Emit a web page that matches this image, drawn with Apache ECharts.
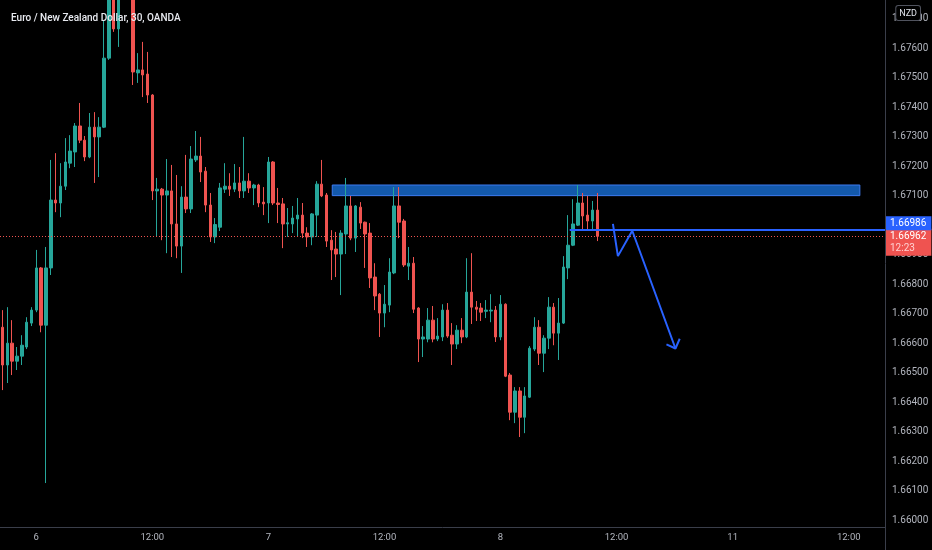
<!DOCTYPE html>
<html><head><meta charset="utf-8">
<script src="https://cdn.jsdelivr.net/npm/echarts@6/dist/echarts.min.js"></script>
<style>html,body{margin:0;padding:0;background:#000;}#c{width:932px;height:550px;}</style>
</head><body><div id="c"></div>
<script>
// ---- data (30-min candles, EUR/NZD) ----
const opens = [1.66654,1.66526,1.66600,1.66539,1.66556,1.66587,1.66668,1.66712,1.66855,1.66661,
1.66855,1.67085,1.67075,1.67132,1.67210,1.67248,1.67336,1.67288,1.67231,1.67332,
1.67299,1.67332,1.67566,1.67780,1.67665,1.67800,1.67900,1.67820,1.67516,1.67526,
1.67512,1.67441,1.67116,1.67122,1.67102,1.67116,1.67004,1.66929,1.67095,1.67055,
1.67221,1.67234,1.67183,1.67068,1.66960,1.66993,1.67122,1.67132,1.67122,1.67143,
1.67116,1.67149,1.67126,1.67136,1.67078,1.67075,1.67214,1.67075,1.67072,1.67004,
1.67004,1.67021,1.67034,1.66973,1.66960,1.67034,1.67139,1.67102,1.66949,1.66919,
1.66902,1.66970,1.67065,1.66956,1.67061,1.67010,1.66973,1.66824,1.66766,1.66702,
1.66729,1.66838,1.67065,1.67014,1.66861,1.66871,1.66719,1.66614,1.66614,1.66678,
1.66614,1.66621,1.66712,1.66627,1.66597,1.66644,1.66621,1.66773,1.66722,1.66719,
1.66708,1.66709,1.66712,1.66621,1.66732,1.66492,1.66366,1.66438,1.66349,1.66417,
1.66580,1.66654,1.66566,1.66617,1.66722,1.66634,1.66668,1.66855,1.66932,1.67000,
1.67075,1.67034,1.67014,1.67051];
const highs = [1.66712,1.66722,1.66678,1.66587,1.66627,1.66688,1.66722,1.66916,1.66858,1.66926,
1.67221,1.67244,1.67210,1.67295,1.67305,1.67346,1.67414,1.67302,1.67380,1.67383,
1.67366,1.67695,1.67800,1.67810,1.67830,1.67930,1.67960,1.67850,1.67583,1.67621,
1.67587,1.67444,1.67160,1.67126,1.67224,1.67204,1.67170,1.67132,1.67238,1.67268,
1.67319,1.67299,1.67197,1.67109,1.67024,1.67143,1.67210,1.67176,1.67207,1.67197,
1.67299,1.67176,1.67140,1.67140,1.67129,1.67231,1.67217,1.67126,1.67092,1.67058,
1.67065,1.67092,1.67075,1.66993,1.67041,1.67149,1.67221,1.67109,1.66983,1.66977,
1.66983,1.67160,1.67099,1.67068,1.67078,1.67012,1.67007,1.66871,1.66770,1.66797,
1.66888,1.67129,1.67129,1.67021,1.66926,1.66892,1.66722,1.66658,1.66719,1.66726,
1.66685,1.66732,1.66736,1.66668,1.66661,1.66685,1.66888,1.66905,1.66743,1.66736,
1.66746,1.66766,1.66726,1.66763,1.66735,1.66499,1.66451,1.66451,1.66451,1.66590,
1.66688,1.66678,1.66627,1.66756,1.66736,1.66753,1.66895,1.67034,1.67088,1.67136,
1.67109,1.67099,1.67082,1.67109];
const lows = [1.66441,1.66465,1.66492,1.66509,1.66526,1.66580,1.66658,1.66705,1.66637,1.66126,
1.66831,1.67044,1.67027,1.67119,1.67193,1.67197,1.67278,1.67217,1.67227,1.67143,
1.67163,1.67329,1.67560,1.67655,1.67604,1.67780,1.67790,1.67475,1.67482,1.67434,
1.67414,1.67085,1.66960,1.66949,1.66905,1.66892,1.66888,1.66838,1.67041,1.67041,
1.67214,1.67146,1.67044,1.66943,1.66939,1.66980,1.67109,1.67099,1.67112,1.67092,
1.67092,1.67109,1.67068,1.67061,1.67034,1.67007,1.67068,1.67007,1.66922,1.66960,
1.66973,1.66960,1.66956,1.66926,1.66932,1.66960,1.67095,1.66926,1.66814,1.66824,
1.66763,1.66902,1.66949,1.66909,1.66987,1.66855,1.66787,1.66712,1.66621,1.66654,
1.66705,1.66834,1.66956,1.66858,1.66814,1.66702,1.66536,1.66553,1.66603,1.66603,
1.66607,1.66607,1.66618,1.66526,1.66580,1.66600,1.66617,1.66665,1.66675,1.66675,
1.66685,1.66671,1.66604,1.66610,1.66485,1.66339,1.66329,1.66282,1.66295,1.66414,
1.66573,1.66526,1.66502,1.66580,1.66593,1.66543,1.66665,1.66817,1.66929,1.66997,
1.66983,1.66983,1.66983,1.66946];
const closes = [1.66526,1.66600,1.66539,1.66556,1.66593,1.66671,1.66712,1.66855,1.66661,1.66855,
1.67085,1.67075,1.67132,1.67214,1.67251,1.67336,1.67288,1.67231,1.67332,1.67299,
1.67332,1.67566,1.67780,1.67665,1.67800,1.67900,1.67820,1.67519,1.67526,1.67509,
1.67441,1.67116,1.67122,1.67102,1.67116,1.67004,1.66929,1.67095,1.67055,1.67224,
1.67234,1.67180,1.67068,1.66960,1.67002,1.67126,1.67132,1.67122,1.67143,1.67116,
1.67149,1.67126,1.67136,1.67075,1.67072,1.67214,1.67075,1.67070,1.67004,1.67008,
1.67024,1.67034,1.66973,1.66960,1.67038,1.67139,1.67099,1.66946,1.66916,1.66902,
1.66973,1.67065,1.66956,1.67065,1.67007,1.66970,1.66821,1.66760,1.66702,1.66732,
1.66841,1.67065,1.67010,1.66865,1.66871,1.66715,1.66614,1.66621,1.66678,1.66614,
1.66624,1.66712,1.66624,1.66597,1.66644,1.66621,1.66773,1.66722,1.66715,1.66705,
1.66712,1.66712,1.66621,1.66732,1.66488,1.66366,1.66438,1.66349,1.66421,1.66583,
1.66654,1.66566,1.66617,1.66722,1.66634,1.66668,1.66858,1.66932,1.67004,1.67075,
1.67031,1.67014,1.67051,1.66962];

// time axis: first bar is day 5 20:30, 30-minute bars, weekend (9,10) skipped
const firstDay = 5, firstMinute = 20 * 60 + 30, barMinutes = 30, slotCount = 183;
const skippedDays = [9, 10];
const tickTimes = ['00:00', '12:00'];

// annotations (in bar-index / price units)
const zoneBar = [68.2, 177.3];
const zonePrice = [1.67136, 1.67100];
const levelPrice = 1.66986;
const levelStartBar = 117.3;
const lastPrice = 1.66962;
const countdown = '12:23';
const arrowPathX = [126.24, 127.27, 130.24, 139.17];
const arrowPathY = [1.67004, 1.66895, 1.66981, 1.66582];
const arrowHeadX = [137.31, 139.17, 140.05];
const arrowHeadY = [1.66596, 1.66582, 1.66615];
const title = 'Euro / New Zealand Dollar, 30, OANDA';
const currency = 'NZD';

// ---- build ----
const categories = [];
for (let i = 0; i < slotCount; i++) {
  const t = firstMinute + i * barMinutes;
  let day = firstDay + Math.floor(t / 1440);
  skippedDays.forEach(d => { if (day >= d) day += 1; });
  const m = t % 1440;
  const hh = String(Math.floor(m / 60)).padStart(2, '0');
  const mm = String(m % 60).padStart(2, '0');
  categories.push(day + ' ' + hh + ':' + mm);
}
const candles = opens.map((o, i) => [o, closes[i], lows[i], highs[i]]);
const zip = (xs, ys) => xs.map((x, i) => [x, ys[i]]);

const UP = '#26a69a', DOWN = '#ef5350', BLUE = '#2962ff';
const FONT = 'Roboto';
const AXIS = '#3a3e4a';

const chart = echarts.init(document.getElementById('c'), null, { renderer: 'canvas' });
chart.setOption({
  backgroundColor: '#000000',
  animation: false,
  title: { text: title, left: 6, top: 8, textStyle: { color: '#e8eaf0', fontSize: 10, fontWeight: 500, fontFamily: FONT } },
  grid: { left: -2, right: 47, top: 0, bottom: 23 },
  xAxis: [{
    type: 'category', data: categories, boundaryGap: true,
    axisLine: { show: true, onZero: false, lineStyle: { color: AXIS } },
    axisTick: { show: false },
    splitLine: { show: false },
    axisLabel: {
      color: '#b2b5be', fontSize: 9.5, fontFamily: FONT, margin: 6,
      interval: (idx, val) => tickTimes.indexOf(val.split(' ')[1]) >= 0,
      formatter: val => { const [d, t] = val.split(' '); return t === '00:00' ? d : t; }
    }
  }, {
    type: 'value', min: -0.5, max: slotCount - 0.5, show: false
  }],
  yAxis: {
    type: 'value', position: 'right', scale: true,
    min: 1.65977, max: 1.67763, splitNumber: 18,
    axisLine: { show: true, onZero: false, lineStyle: { color: AXIS } },
    axisTick: { show: false },
    splitLine: { show: false },
    axisLabel: { color: '#b2b5be', fontSize: 10, fontFamily: FONT, margin: 7,
      showMinLabel: false, showMaxLabel: false, formatter: v => v.toFixed(5) }
  },
  series: [{
    type: 'candlestick', data: candles, barWidth: 3, clip: true,
    itemStyle: { color: UP, color0: DOWN, borderColor: UP, borderColor0: DOWN, borderWidth: 1 }
  }, {
    type: 'line', xAxisIndex: 1, data: zip(arrowPathX, arrowPathY),
    showSymbol: false, symbol: 'none', silent: true, z: 5,
    lineStyle: { color: BLUE, width: 2 },
    markArea: {
      silent: true,
      itemStyle: { color: 'rgba(22,101,196,0.88)', borderColor: '#3d7bf0', borderWidth: 1 },
      data: [[{ coord: [zoneBar[0], zonePrice[0]] }, { coord: [zoneBar[1], zonePrice[1]] }]]
    },
    markLine: {
      silent: true, symbol: ['none', 'none'], animation: false,
      data: [
        [{
          coord: [-0.5, lastPrice],
          lineStyle: { color: DOWN, type: [1, 2], width: 1 },
          label: {
            show: true, position: 'end', distance: 1, offset: [0, 6],
            formatter: '{p|' + lastPrice.toFixed(5) + '}\n{t|' + countdown + '}',
            backgroundColor: DOWN, padding: [2, 5, 1, 4],
            rich: {
              p: { color: '#ffffff', fontSize: 10, fontFamily: FONT, lineHeight: 12 },
              t: { color: '#ffd0d0', fontSize: 10, fontFamily: FONT, lineHeight: 12 }
            }
          }
        }, { coord: [slotCount - 0.5, lastPrice] }],
        [{
          coord: [levelStartBar, levelPrice],
          lineStyle: { color: BLUE, width: 2, type: 'solid' },
          label: {
            show: true, position: 'end', distance: 1, offset: [0, -6],
            formatter: levelPrice.toFixed(5), color: '#ffffff', fontSize: 10, fontFamily: FONT,
            backgroundColor: BLUE, padding: [1, 5, 1, 4], lineHeight: 12
          }
        }, { coord: [slotCount - 0.5, levelPrice] }]
      ]
    }
  }, {
    type: 'line', xAxisIndex: 1, data: zip(arrowHeadX, arrowHeadY),
    showSymbol: false, symbol: 'none', silent: true, z: 5,
    lineStyle: { color: BLUE, width: 2 }
  }],
  graphic: [{
    type: 'text', right: 11, top: 5, z: 100,
    style: { text: currency, fill: '#e0e3eb', font: '9px ' + FONT, backgroundColor: '#000',
      borderColor: '#50535e', borderWidth: 1, borderRadius: 2, padding: [3, 3, 2, 3] }
  }, {
    type: 'line', z: 100,
    shape: { x1: 885.5, y1: 527, x2: 885.5, y2: 550 },
    style: { stroke: AXIS, lineWidth: 1 }
  }]
});
</script></body></html>
